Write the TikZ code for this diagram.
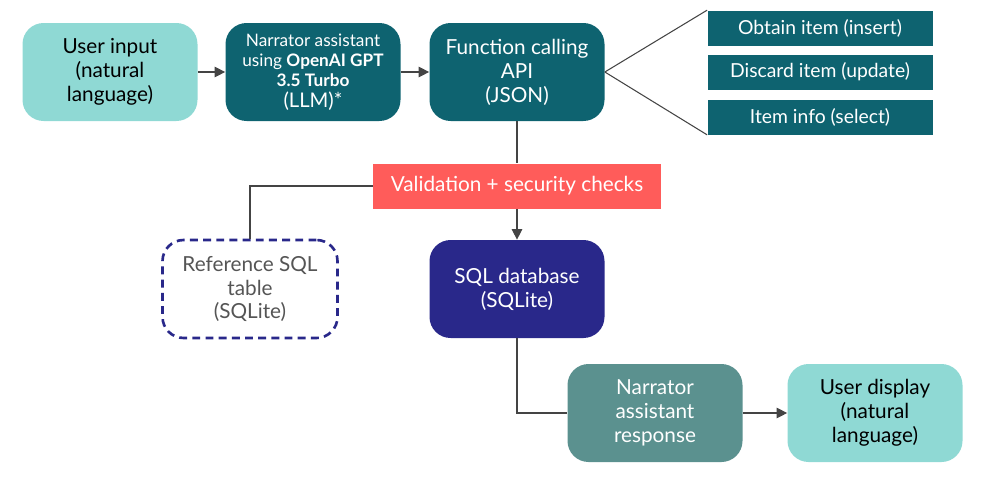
\documentclass[tikz,border=0pt]{standalone}
\usepackage{fontspec}
\setmainfont{Lato}
\usepackage{tikz}
\usetikzlibrary{arrows.meta}

\definecolor{lightteal}{HTML}{8FD9D4}
\definecolor{darkteal}{HTML}{0E6370}
\definecolor{alertred}{HTML}{FF5C5A}
\definecolor{navy}{HTML}{29288A}
\definecolor{midteal}{HTML}{5B918F}
\definecolor{linegray}{HTML}{444444}
\definecolor{textgray}{HTML}{555555}

\begin{document}
\begin{tikzpicture}[x=0.02cm,y=-0.02cm]
\useasboundingbox (0,0) rectangle (1000,484);
\begin{scope}[every node/.style={rounded corners=12pt,minimum width=175*0.02cm,
              minimum height=98*0.02cm,align=center,font=\fontsize{11.8}{13.6}\selectfont,inner sep=2pt},
              userbox/.style={fill=lightteal,text=black},
              tealbox/.style={fill=darkteal,text=white}]
    \node[userbox] (input) at (110,72) {User input\\(natural\\language)};
    \node[tealbox,font=\fontsize{9.8}{11.6}\selectfont] (narrator) at (313,72)
        {Narrator assistant\\using \textbf{OpenAI GPT}\\\textbf{3.5 Turbo}\\{\fontsize{11.5}{12}\selectfont(LLM)*}};
    \node[tealbox] (api) at (517,72) {Function calling\\API\\(JSON)};
    \node[fill=navy,text=white] (db) at (517,289) {SQL database\\(SQLite)};
    \node[draw=navy,line width=1.5pt,dash pattern=on 4.5pt off 3pt,text=textgray] (ref) at (250,289)
        {Reference SQL\\table\\(SQLite)};
    \node[fill=midteal,text=white] (response) at (655,413) {Narrator\\assistant\\response};
    \node[userbox] (display) at (875,413) {User display\\(natural\\language)};
\end{scope}
\begin{scope}[every node/.style={fill=darkteal,text=white,minimum width=225*0.02cm,
              minimum height=35*0.02cm,inner sep=0pt,font=\fontsize{11}{12}\selectfont}]
    \node (obtain) at (820,28) {Obtain item (insert)};
    \node (discard) at (820,72) {Discard item (update)};
    \node (info) at (820,117) {Item info (select)};
\end{scope}
\node[fill=alertred,text=white,minimum width=288*0.02cm,minimum height=45*0.02cm,
      inner sep=0pt,font=\fontsize{11.8}{13}\selectfont] (check) at (517,186) {Validation + security checks};
\begin{scope}[>={Triangle[length=6pt,width=6pt]},
              link/.style={draw=linegray,line width=0.6pt}]
    \path [->] (input) edge [link] (narrator);
    \path [->] (narrator) edge [link] (api);
    \path (api.east) edge [link] (obtain.north west);
    \path (api.east) edge [link] (info.south west);
    \path (api) edge [link] (check);
    \path [->] (check) edge [link] (db);
    \draw [link] (check.west) -| (ref.north);
    \draw [link] (db.south) |- (response.west);
    \path [->] (response) edge [link] (display);
\end{scope}
\end{tikzpicture}
\end{document}
